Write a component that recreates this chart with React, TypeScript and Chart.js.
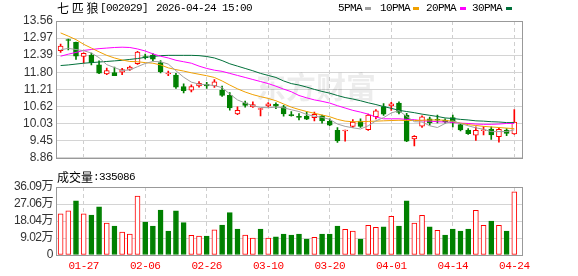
import React, { useEffect, useRef } from 'react';
import { Chart, registerables } from 'chart.js';

Chart.register(...registerables);

// Trading days shown in the window
const dates = [
  '01-22', '01-23', '01-26', '01-27', '01-28', '01-29', '01-30', '02-02', '02-03', '02-04',
  '02-05', '02-06', '02-09', '02-10', '02-11', '02-12', '02-13', '02-24', '02-25', '02-26',
  '02-27', '03-02', '03-03', '03-04', '03-05', '03-06', '03-09', '03-10', '03-11', '03-12',
  '03-13', '03-16', '03-17', '03-18', '03-19', '03-20', '03-23', '03-24', '03-25', '03-26',
  '03-27', '03-30', '03-31', '04-01', '04-02', '04-03', '04-07', '04-08', '04-09', '04-10',
  '04-13', '04-14', '04-15', '04-16', '04-17', '04-20', '04-21', '04-22', '04-23', '04-24',
];

const opens = [
  12.54, 12.90, 12.83, 12.34, 12.39, 12.05, 11.74, 11.79, 11.80, 11.90,
  12.09, 12.34, 12.39, 12.13, 11.74, 11.70, 11.31, 11.18, 11.33, 11.38,
  11.33, 11.19, 11.01, 10.37, 10.75, 10.61, 10.52, 10.64, 10.70, 10.61,
  10.33, 10.27, 10.29, 10.24, 10.30, 10.11, 9.80, 9.78, 9.94, 10.12,
  9.83, 10.27, 10.62, 10.65, 10.74, 10.33, 9.51, 9.95, 10.20, 10.18,
  10.16, 10.24, 10.00, 9.81, 9.64, 9.79, 9.85, 9.59, 9.81, 9.68,
];
const highs = [
  12.77, 12.94, 12.84, 12.47, 12.46, 12.19, 11.94, 11.98, 11.93, 12.01,
  12.52, 12.42, 12.44, 12.20, 11.84, 11.76, 11.40, 11.37, 11.48, 11.45,
  11.55, 11.32, 11.10, 10.61, 10.81, 10.78, 10.56, 10.76, 10.75, 10.66,
  10.45, 10.38, 10.44, 10.43, 10.33, 10.20, 9.90, 9.81, 10.17, 10.20,
  10.36, 10.52, 10.72, 10.77, 10.78, 10.39, 9.62, 10.30, 10.26, 10.33,
  10.20, 10.33, 10.04, 9.86, 9.92, 9.93, 9.92, 9.90, 9.86, 10.52,
];
const lows = [
  12.48, 12.57, 12.24, 12.12, 12.05, 11.75, 11.72, 11.68, 11.72, 11.86,
  12.07, 12.26, 12.20, 11.78, 11.68, 11.24, 11.09, 11.12, 11.29, 11.24,
  11.28, 10.97, 10.50, 10.34, 10.60, 10.59, 10.30, 10.60, 10.55, 10.29,
  10.29, 10.16, 10.17, 10.13, 10.05, 9.96, 9.39, 9.43, 9.90, 9.90,
  9.80, 10.20, 10.32, 10.49, 10.37, 9.41, 9.27, 9.90, 9.98, 10.06,
  10.04, 9.92, 9.78, 9.66, 9.46, 9.65, 9.49, 9.40, 9.62, 9.66,
];
const closes = [
  12.70, 12.89, 12.35, 12.45, 12.13, 11.77, 11.86, 11.68, 11.89, 11.98,
  12.49, 12.30, 12.25, 11.82, 11.76, 11.29, 11.17, 11.31, 11.42, 11.33,
  11.47, 11.00, 10.57, 10.49, 10.66, 10.69, 10.54, 10.71, 10.63, 10.37,
  10.31, 10.25, 10.19, 10.35, 10.13, 9.98, 9.44, 9.80, 10.09, 9.94,
  10.33, 10.47, 10.36, 10.71, 10.42, 9.43, 9.60, 10.27, 10.06, 10.15,
  10.10, 10.06, 9.82, 9.69, 9.80, 9.82, 9.65, 9.84, 9.70, 10.09,
];

// Moving averages of the close
const ma5 = [
  12.57, 12.62, 12.58, 12.54, 12.46, 12.30, 12.06, 11.96, 11.86, 11.88,
  11.99, 12.10, 12.17, 12.16, 12.08, 11.85, 11.63, 11.46, 11.39, 11.37,
  11.34, 11.27, 11.05, 10.85, 10.74, 10.65, 10.59, 10.58, 10.60, 10.58,
  10.51, 10.45, 10.35, 10.29, 10.25, 10.18, 10.02, 9.94, 9.89, 9.85,
  9.96, 10.13, 10.24, 10.40, 10.48, 10.28, 10.10, 10.09, 9.96, 9.90,
  10.04, 10.13, 10.04, 9.96, 9.89, 9.84, 9.76, 9.76, 9.76, 9.82,
];
const ma10 = [
  13.15, 13.04, 12.92, 12.76, 12.63, 12.50, 12.38, 12.29, 12.22, 12.17,
  12.16, 12.13, 12.11, 12.05, 11.95, 11.89, 11.84, 11.78, 11.73, 11.68,
  11.62, 11.50, 11.36, 11.23, 11.12, 11.03, 10.96, 10.90, 10.82, 10.71,
  10.60, 10.52, 10.45, 10.39, 10.33, 10.27, 10.18, 10.12, 10.10, 10.10,
  10.11, 10.12, 10.13, 10.14, 10.15, 10.14, 10.14, 10.15, 10.16, 10.16,
  10.15, 10.11, 10.05, 10.00, 9.97, 9.94, 9.92, 9.90, 9.88, 9.86,
];
const ma20 = [
  12.35, 12.42, 12.48, 12.55, 12.58, 12.61, 12.63, 12.65, 12.66, 12.65,
  12.60, 12.53, 12.43, 12.35, 12.29, 12.21, 12.16, 12.11, 12.01, 11.93,
  11.87, 11.83, 11.76, 11.69, 11.62, 11.55, 11.48, 11.41, 11.32, 11.22,
  11.13, 11.00, 10.92, 10.85, 10.80, 10.74, 10.65, 10.57, 10.49, 10.43,
  10.36, 10.26, 10.20, 10.20, 10.20, 10.18, 10.17, 10.13, 10.12, 10.10,
  10.09, 10.07, 10.05, 10.04, 10.02, 10.01, 10.01, 10.02, 10.04, 10.04,
];
const ma30 = [
  12.03, 12.05, 12.08, 12.11, 12.13, 12.15, 12.17, 12.19, 12.21, 12.24,
  12.27, 12.31, 12.34, 12.37, 12.38, 12.38, 12.38, 12.38, 12.37, 12.34,
  12.29, 12.20, 12.09, 12.01, 11.93, 11.85, 11.76, 11.69, 11.62, 11.50,
  11.41, 11.36, 11.29, 11.21, 11.14, 11.08, 11.00, 10.93, 10.88, 10.82,
  10.75, 10.69, 10.62, 10.56, 10.49, 10.45, 10.41, 10.36, 10.32, 10.28,
  10.23, 10.21, 10.18, 10.16, 10.13, 10.12, 10.10, 10.09, 10.07, 10.07,
];

// Volume in 万 (10k lots); 1 = closed up on the day, 0 = closed down
const volumes = [
  21.8, 23.4, 28.7, 21.8, 21.2, 25.5, 17.0, 15.4, 12.2, 11.1,
  31.3, 17.5, 15.4, 23.9, 12.7, 23.4, 17.2, 10.4, 10.1, 10.1,
  13.3, 15.9, 22.5, 13.8, 10.6, 9.0, 13.8, 9.0, 9.6, 11.1,
  10.6, 11.1, 8.5, 9.4, 11.1, 11.1, 15.4, 13.6, 12.7, 8.5,
  15.8, 14.7, 14.9, 20.5, 15.4, 28.7, 17.0, 21.1, 14.9, 13.1,
  10.6, 13.8, 12.7, 13.8, 23.7, 15.8, 18.0, 15.8, 12.7, 33.5086,
];
const volumeUp = [
  1, 1, 0, 1, 0, 0, 1, 0, 1, 1,
  1, 0, 0, 0, 0, 0, 0, 1, 1, 0,
  1, 0, 0, 0, 1, 1, 0, 1, 0, 0,
  0, 0, 0, 1, 0, 0, 0, 1, 1, 0,
  1, 1, 0, 1, 0, 0, 1, 1, 0, 1,
  0, 0, 0, 0, 1, 1, 0, 1, 0, 1,
];

const priceTicks = [8.86, 9.45, 10.03, 10.62, 11.21, 11.80, 12.39, 12.97, 13.56];
const volumeTicks = [0, 9.02, 18.04, 27.06, 36.09];
const volumeTickLabels = ['0', '9.02万', '18.04万', '27.06万', '36.09万'];
const axisDates = ['01-27', '02-06', '02-26', '03-10', '03-20', '04-01', '04-14', '04-24'];

const maSeries = [
  { name: '5PMA', values: ma5, color: '#a0a0a0' },
  { name: '10PMA', values: ma10, color: '#f0a000' },
  { name: '20PMA', values: ma20, color: '#ff00ff' },
  { name: '30PMA', values: ma30, color: '#00703a' },
];

const RED = '#ff0000';
const GREEN = '#008000';
const X_MIN = -0.6;
const X_MAX = 60;
const MONO = "'Liberation Mono', monospace";
const CJK = "'Noto Sans CJK SC', sans-serif";

const axisIdx = axisDates.map((d) => dates.indexOf(d));

// Grey frame around a panel's plot area
const framePlugin = {
  id: 'panelFrame',
  afterDraw(chart: any) {
    const { ctx, chartArea } = chart;
    const { left, top, right, bottom } = chartArea;
    ctx.save();
    ctx.strokeStyle = '#999999';
    ctx.lineWidth = 1;
    ctx.strokeRect(Math.round(left) + 0.5, Math.round(top) + 0.5, Math.round(right - left), Math.round(bottom - top));
    ctx.restore();
  },
};

// Faint brand watermark behind the candles
const watermarkPlugin = {
  id: 'watermark',
  beforeDatasetsDraw(chart: any) {
    const { ctx } = chart;
    ctx.save();
    ctx.font = `bold 30px ${CJK}`;
    ctx.fillStyle = 'rgba(0,0,0,0.075)';
    ctx.textAlign = 'center';
    ctx.textBaseline = 'middle';
    ctx.fillText('东方财富', 316, 87);
    ctx.restore();
  },
};

// Date labels are drawn with a slightly tightened monospace
const tightLabelsPlugin = {
  id: 'tightLabels',
  beforeDraw(chart: any) {
    chart.ctx.letterSpacing = '-0.5px';
  },
};

const xScaleBase = (showLabels: boolean) => ({
  type: 'linear' as const,
  min: X_MIN,
  max: X_MAX,
  offset: false,
  grid: { color: '#cfcfcf', drawTicks: false, borderDash: [4, 3], offset: false },
  border: { display: false, dash: [4, 3] },
  afterBuildTicks: (scale: any) => {
    scale.ticks = axisIdx.map((v) => ({ value: v }));
  },
  ticks: {
    display: showLabels,
    autoSkip: false,
    maxRotation: 0,
    padding: 4,
    color: RED,
    font: { family: MONO, size: 11 },
    callback: (v: any) => dates[Math.round(Number(v))] ?? '',
  },
});

const yTickFont = { family: "'Liberation Sans', 'Noto Sans CJK SC', sans-serif", size: 12 };

export default function App() {
  const priceRef = useRef<HTMLCanvasElement>(null);
  const volRef = useRef<HTMLCanvasElement>(null);

  useEffect(() => {
    const candleUp = closes.map((c, i) => c >= opens[i]);

    const priceChart = new Chart(priceRef.current!, {
      type: 'bar',
      data: {
        datasets: [
          ...maSeries.map((m) => ({
            type: 'line' as const,
            label: m.name,
            data: m.values.map((v, i) => ({ x: i, y: v })),
            borderColor: m.color,
            borderWidth: 1,
            pointRadius: 0,
            tension: 0,
            order: 0,
          })),
          {
            type: 'bar' as const,
            label: 'body',
            data: opens.map((o, i) => ({ x: i, y: [o, closes[i]] })) as any,
            backgroundColor: candleUp.map((u) => (u ? '#ffffff' : GREEN)),
            borderColor: candleUp.map((u) => (u ? RED : GREEN)),
            borderWidth: 1,
            borderSkipped: false,
            barThickness: 5,
            minBarLength: 1,
            grouped: false,
            order: 1,
          },
          {
            type: 'bar' as const,
            label: 'wick',
            data: lows.map((l, i) => ({ x: i, y: [l, highs[i]] })) as any,
            backgroundColor: candleUp.map((u) => (u ? RED : GREEN)),
            borderWidth: 0,
            barThickness: 1,
            grouped: false,
            order: 2,
          },
        ],
      },
      options: {
        animation: false,
        responsive: false,
        devicePixelRatio: 1,
        events: [],
        layout: { padding: { left: 0, right: 56, top: 21, bottom: 3 } },
        plugins: { legend: { display: false }, tooltip: { enabled: false } },
        scales: {
          x: { ...xScaleBase(false), afterFit: (s: any) => { s.height = 0; } },
          y: {
            min: priceTicks[0],
            max: priceTicks[priceTicks.length - 1],
            grid: { color: '#d4d4d4', drawTicks: false },
            border: { display: false },
            afterBuildTicks: (scale: any) => {
              scale.ticks = priceTicks.map((v) => ({ value: v }));
            },
            afterFit: (s: any) => { s.width = 56; },
            ticks: {
              autoSkip: false,
              padding: 3,
              color: '#333333',
              font: yTickFont,
              callback: (v: any) => Number(v).toFixed(2),
            },
          },
        },
      } as any,
      plugins: [framePlugin, watermarkPlugin],
    });

    const volChart = new Chart(volRef.current!, {
      type: 'bar',
      data: {
        datasets: [
          {
            label: 'volume',
            data: volumes.map((v, i) => ({ x: i, y: v })) as any,
            backgroundColor: volumeUp.map((u) => (u ? '#ffffff' : GREEN)),
            borderColor: volumeUp.map((u) => (u ? RED : GREEN)),
            borderWidth: 1,
            borderSkipped: false,
            barThickness: 5,
            grouped: false,
          },
        ],
      },
      options: {
        animation: false,
        responsive: false,
        devicePixelRatio: 1,
        events: [],
        layout: { padding: { left: 0, right: 56, top: 19, bottom: 0 } },
        plugins: { legend: { display: false }, tooltip: { enabled: false } },
        scales: {
          x: { ...xScaleBase(true), afterFit: (s: any) => { s.height = 21; } },
          y: {
            min: volumeTicks[0],
            max: volumeTicks[volumeTicks.length - 1],
            grid: { color: '#d4d4d4', drawTicks: false },
            border: { display: false },
            afterBuildTicks: (scale: any) => {
              scale.ticks = volumeTicks.map((v) => ({ value: v }));
            },
            afterFit: (s: any) => { s.width = 56; },
            ticks: {
              autoSkip: false,
              padding: 3,
              color: '#333333',
              font: yTickFont,
              callback: (v: any) => volumeTickLabels[volumeTicks.indexOf(Number(v))] ?? '',
            },
          },
        },
      } as any,
      plugins: [framePlugin, tightLabelsPlugin],
    });

    return () => {
      priceChart.destroy();
      volChart.destroy();
    };
  }, []);

  const legendPos = [
    { text: 338, mark: 365 },
    { text: 380, mark: 413 },
    { text: 426, mark: 460 },
    { text: 472, mark: 506 },
  ];

  const textBase: React.CSSProperties = {
    position: 'absolute',
    fontSize: 11,
    letterSpacing: '-0.6px',
    lineHeight: '14px',
    color: '#000',
    whiteSpace: 'nowrap',
    fontFamily: MONO,
  };

  return (
    <div
      style={{
        position: 'fixed',
        left: 0,
        top: 0,
        width: 578,
        height: 276,
        background: '#ffffff',
        overflow: 'hidden',
      }}
    >
      <canvas
        ref={priceRef}
        width={578}
        height={168}
        style={{ position: 'absolute', left: 0, top: 0, width: 578, height: 168 }}
      />
      <canvas
        ref={volRef}
        width={578}
        height={108}
        style={{ position: 'absolute', left: 0, top: 168, width: 578, height: 108 }}
      />

      <span style={{ ...textBase, left: 57, top: 1, fontSize: 12, letterSpacing: 0, fontFamily: CJK }}>七 匹 狼</span>
      <span style={{ ...textBase, left: 100, top: 1 }}>[002029]</span>
      <span style={{ ...textBase, left: 156, top: 1 }}>2026-04-24 15:00</span>

      {maSeries.map((m, k) => (
        <React.Fragment key={m.name}>
          <span style={{ ...textBase, left: legendPos[k].text, top: 1 }}>{m.name}</span>
          <span
            style={{
              position: 'absolute',
              left: legendPos[k].mark,
              top: 7,
              width: 6,
              height: 3,
              background: m.color,
            }}
          />
        </React.Fragment>
      ))}

      <span style={{ ...textBase, left: 57, top: 170, fontSize: 12, letterSpacing: 0, fontFamily: CJK }}>成交量</span>
      <span style={{ ...textBase, left: 93, top: 170 }}>:335086</span>
    </div>
  );
}
